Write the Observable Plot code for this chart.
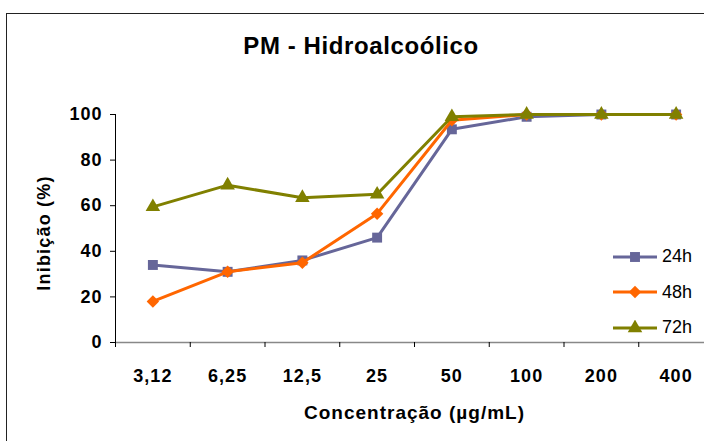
<!DOCTYPE html>
<html>
<head>
<meta charset="utf-8">
<script src="https://cdn.jsdelivr.net/npm/d3@7"></script>
<script src="https://cdn.jsdelivr.net/npm/@observablehq/plot@0.6"></script>
<style>
  html, body { margin: 0; padding: 0; background: #fff; overflow: hidden; }
  body { width: 704px; height: 441px; position: relative; font-family: "Liberation Sans", Arial, sans-serif; }
  #frame { position: absolute; left: 6px; top: 13px; width: 800px; height: 600px; border: 1px solid #222; box-sizing: border-box; pointer-events: none; }
  #chart { position: absolute; left: 0; top: 0; }
  #chart text { letter-spacing: 1px; }
  #title { position: absolute; left: 0; width: 722px; top: 32px; text-align: center; font-weight: bold; font-size: 24px; letter-spacing: 0.6px; color: #000; }
  #xlabel { position: absolute; left: 116px; width: 597px; top: 402px; text-align: center; font-weight: bold; font-size: 19px; letter-spacing: 1px; }
  #ylabel { position: absolute; left: 44px; top: 233px; transform: translate(-50%, -50%) rotate(-90deg); white-space: nowrap; font-weight: bold; font-size: 18px; letter-spacing: 1.2px; }
  #legend { position: absolute; left: 612px; top: 239px; }
  .item { display: flex; align-items: center; height: 35.5px; font-size: 18px; }
  .item svg { margin-right: 4px; }
</style>
</head>
<body>
<div id="chart"></div>
<div id="frame"></div>
<div id="title">PM - Hidroalcoólico</div>
<div id="ylabel">Inibição (%)</div>
<div id="xlabel">Concentração (µg/mL)</div>
<div id="legend"></div>
<script>
const concentrations = ["3,12", "6,25", "12,5", "25", "50", "100", "200", "400"];
const inhib24 = [34, 31, 36, 46, 93.5, 99, 100, 100];
const inhib48 = [18, 31, 35, 56.5, 97.5, 100, 100, 100];
const inhib72 = [59.5, 69, 63.5, 65, 99, 100, 100, 100];
const seriesNames = ["24h", "48h", "72h"];
const seriesColors = ["#666699", "#FF6600", "#808000"];
const seriesSymbols = ["square", "diamond2", "triangle"];
const yTicks = [0, 20, 40, 60, 80, 100];

const seriesValues = [inhib24, inhib48, inhib72];
const rows = seriesNames.map((name, s) =>
  concentrations.map((c, i) => ({series: name, idx: i + 0.5, label: c, value: seriesValues[s][i]}))
);
const catRows = concentrations.map((c, i) => ({idx: i + 0.5, label: c}));
const symR = [5.6, 5.6, 5.4];

const marks = [
  Plot.ruleY([0], {stroke: "#888", strokeWidth: 1.5}),
  Plot.ruleX([0], {y1: 0, y2: 100, stroke: "#000", strokeWidth: 1}),
  Plot.axisY({ticks: yTicks, tickSize: 5, tickPadding: 8, tickFormat: d => d, label: null,
    fontWeight: "bold", fontSize: 18, fill: "#000", stroke: "#000"}),
  Plot.axisX({ticks: d3.range(concentrations.length + 1), tickSize: 5, tickFormat: () => "", label: null, stroke: "#000"}),
  Plot.text(catRows, {x: "idx", y: 0, dy: 34, text: "label", fontWeight: "bold", fontSize: 18, fill: "#000"})
];
rows.forEach((r, s) => {
  marks.push(Plot.line(r, {x: "idx", y: "value", stroke: seriesColors[s], strokeWidth: 3}));
  marks.push(Plot.dot(r, {x: "idx", y: "value", fill: seriesColors[s], stroke: "none", symbol: seriesSymbols[s], r: symR[s]}));
});

const plot = Plot.plot({
  width: 704,
  height: 441,
  marginLeft: 115,
  marginRight: -9,
  marginTop: 114,
  marginBottom: 99,
  style: {fontFamily: "'Liberation Sans', Arial, sans-serif", background: "transparent"},
  x: {type: "linear", domain: [0, concentrations.length], axis: null},
  y: {domain: [0, 100], axis: null},
  marks
});
document.getElementById("chart").appendChild(plot);

const legend = document.getElementById("legend");
seriesNames.forEach((name, s) => {
  const item = document.createElement("div");
  item.className = "item";
  const sym = d3.symbol(
    {square: d3.symbolSquare, diamond2: d3.symbolDiamond2, triangle: d3.symbolTriangle}[seriesSymbols[s]],
    Math.PI * symR[s] ** 2
  )();
  item.innerHTML = `<svg width="46" height="16"><line x1="1" x2="45" y1="8" y2="8" stroke="${seriesColors[s]}" stroke-width="3"/><path transform="translate(23,8)" d="${sym}" fill="${seriesColors[s]}"/></svg><span>${name}</span>`;
  legend.appendChild(item);
});
</script>
</body>
</html>
